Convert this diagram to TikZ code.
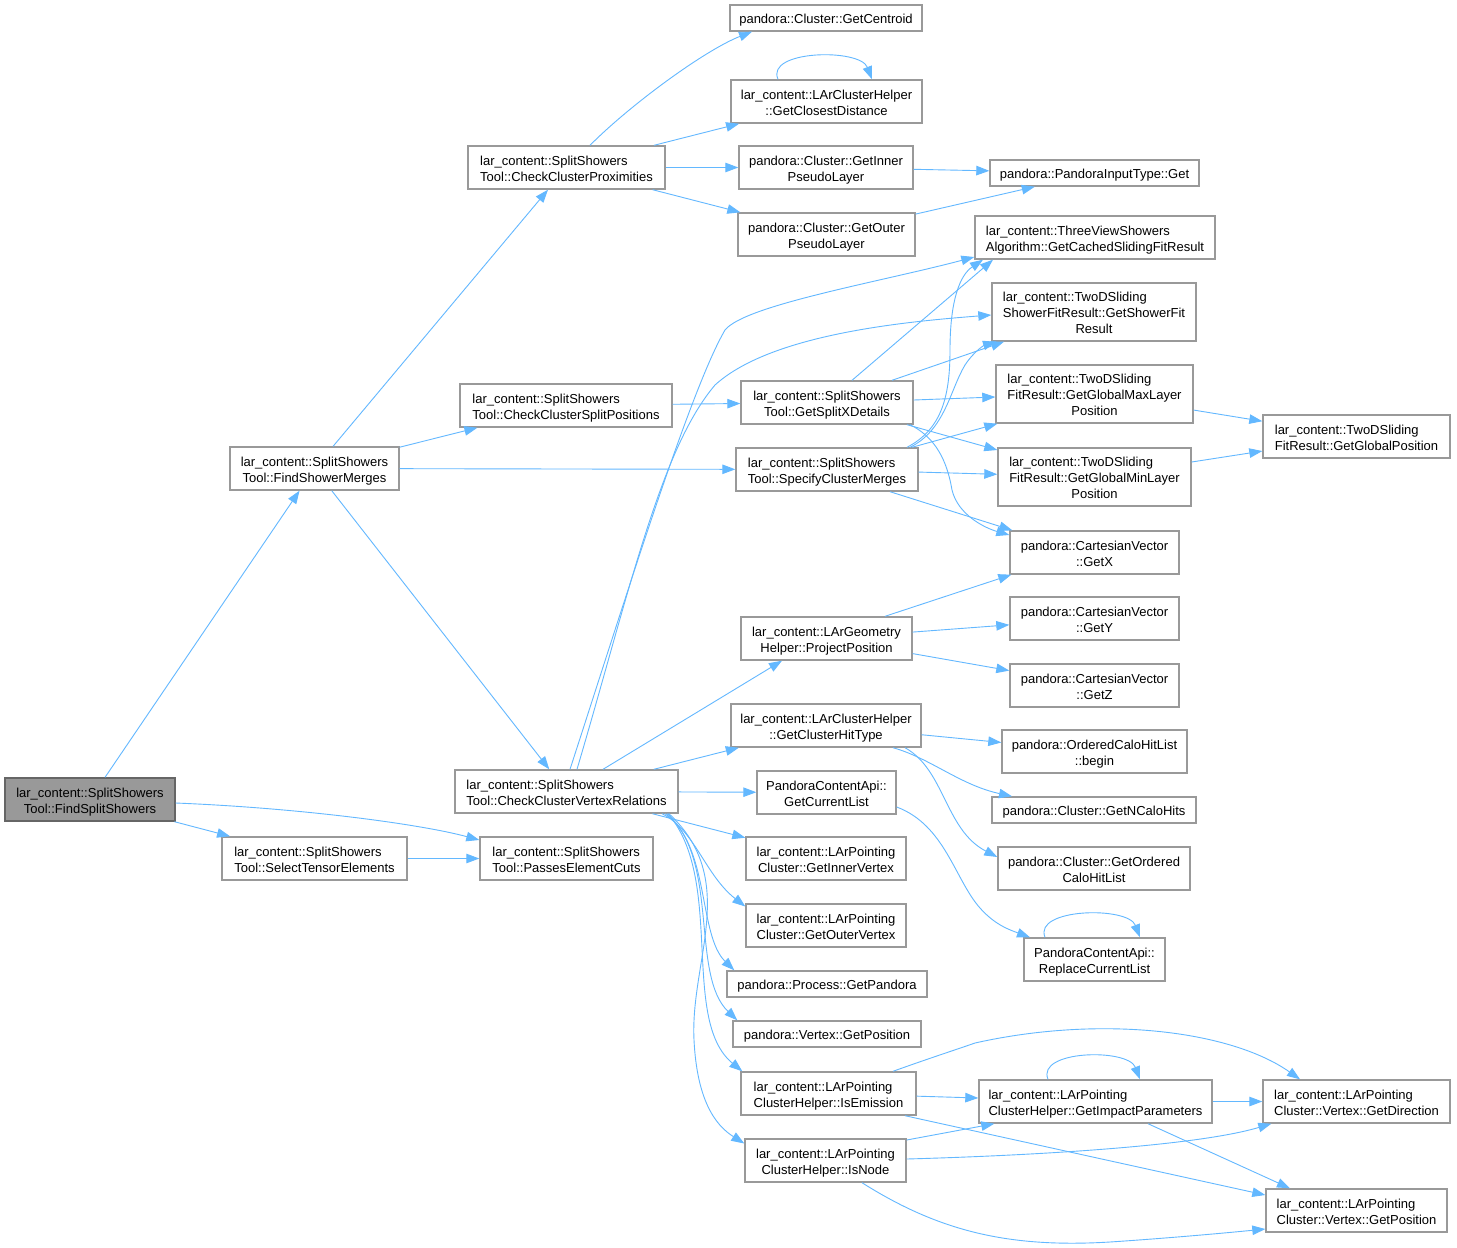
\documentclass[tikz,border=0pt]{standalone}
\usepackage{fontspec}
\setmainfont{Liberation Sans}
\usetikzlibrary{arrows.meta}
\definecolor{edgec}{HTML}{63B8FF}
\definecolor{bordc}{HTML}{999999}
\definecolor{mainb}{HTML}{666666}
\definecolor{mainf}{HTML}{999999}
\newcommand\dxup{\rule{0pt}{16.6pt}}
\newcommand\dxtwo[2]{\begin{tabular}{@{}l@{}}\dxup#1\\\multicolumn{1}{@{}c@{}}{#2}\end{tabular}}
\newcommand\dxthree[3]{\begin{tabular}{@{}l@{}}\dxup#1\\#2\\\multicolumn{1}{@{}c@{}}{#3}\end{tabular}}
\begin{document}
\begin{tikzpicture}[x=1pt,y=-1pt,
  box/.style={draw=bordc,fill=white,line width=1.4pt,inner sep=0pt,text=black,font=\fontsize{13}{16}\selectfont},
  hone/.style={minimum height=26pt,text height=13.6pt,text depth=2.8pt},
  htwo/.style={minimum height=43pt},
  hthree/.style={minimum height=58pt},
  e/.style={draw=edgec,line width=0.9pt,-{Triangle[length=13pt,width=9.5pt]}}]
\fill[white] (0,0) rectangle (1457,1248);
\useasboundingbox (0,0) rectangle (1457,1248);
% nodes
\node[box,htwo,minimum width=170pt,fill=mainf,draw=mainb] (fss) at (90,799.5) {\dxtwo{lar\_content::SplitShowers}{Tool::FindSplitShowers}};
\node[box,htwo,minimum width=169pt] (fsm) at (314.5,468.5) {\dxtwo{lar\_content::SplitShowers}{Tool::FindShowerMerges}};
\node[box,htwo,minimum width=185pt] (ste) at (314.5,858.5) {\dxtwo{lar\_content::SplitShowers}{Tool::SelectTensorElements}};
\node[box,htwo,minimum width=173pt] (pec) at (566.5,858.5) {\dxtwo{lar\_content::SplitShowers}{Tool::PassesElementCuts}};
\node[box,htwo,minimum width=197pt] (ccp) at (566.5,167.5) {\dxtwo{lar\_content::SplitShowers}{Tool::CheckClusterProximities}};
\node[box,htwo,minimum width=212pt] (ccsp) at (566,405.5) {\dxtwo{lar\_content::SplitShowers}{Tool::CheckClusterSplitPositions}};
\node[box,htwo,minimum width=223pt] (ccvr) at (566.5,791.5) {\dxtwo{lar\_content::SplitShowers}{Tool::CheckClusterVertexRelations}};
\node[box,hone,minimum width=192pt] (cen) at (826,18) {pandora::Cluster::GetCentroid};
\node[box,htwo,minimum width=191pt] (gcd) at (826.5,101.5) {\dxtwo{lar\_content::LArClusterHelper}{::GetClosestDistance}};
\node[box,htwo,minimum width=174pt] (gipl) at (826,167.5) {\dxtwo{pandora::Cluster::GetInner}{PseudoLayer}};
\node[box,htwo,minimum width=177pt] (gopl) at (826.5,234.5) {\dxtwo{pandora::Cluster::GetOuter}{PseudoLayer}};
\node[box,hone,minimum width=209pt] (pit) at (1094.5,173) {pandora::PandoraInputType::Get};
\node[box,htwo,minimum width=240pt] (gcsf) at (1095,237.5) {\dxtwo{lar\_content::ThreeViewShowers}{Algorithm::GetCachedSlidingFitResult}};
\node[box,hthree,minimum width=204pt] (gsfr) at (1094,312) {\dxthree{lar\_content::TwoDSliding}{ShowerFitResult::GetShowerFit}{Result}};
\node[box,hthree,minimum width=197pt] (gmax) at (1094.5,394) {\dxthree{lar\_content::TwoDSliding}{FitResult::GetGlobalMaxLayer}{Position}};
\node[box,hthree,minimum width=193pt] (gmin) at (1094.5,477) {\dxthree{lar\_content::TwoDSliding}{FitResult::GetGlobalMinLayer}{Position}};
\node[box,htwo,minimum width=187pt] (gpos) at (1356.5,436.5) {\dxtwo{lar\_content::TwoDSliding}{FitResult::GetGlobalPosition}};
\node[box,htwo,minimum width=169pt] (gx) at (1094.5,552.5) {\dxtwo{pandora::CartesianVector}{::GetX}};
\node[box,htwo,minimum width=169pt] (gy) at (1094.5,618.5) {\dxtwo{pandora::CartesianVector}{::GetY}};
\node[box,htwo,minimum width=169pt] (gz) at (1094.5,685.5) {\dxtwo{pandora::CartesianVector}{::GetZ}};
\node[box,htwo,minimum width=172pt] (gsxd) at (827,402.5) {\dxtwo{lar\_content::SplitShowers}{Tool::GetSplitXDetails}};
\node[box,htwo,minimum width=182pt] (scm) at (827,469.5) {\dxtwo{lar\_content::SplitShowers}{Tool::SpecifyClusterMerges}};
\node[box,htwo,minimum width=171pt] (pp) at (826.5,638.5) {\dxtwo{lar\_content::LArGeometry}{Helper::ProjectPosition}};
\node[box,htwo,minimum width=190pt] (gcht) at (826,725.5) {\dxtwo{lar\_content::LArClusterHelper}{::GetClusterHitType}};
\node[box,htwo,minimum width=139pt] (gcl) at (826.5,792.5) {\dxtwo{PandoraContentApi::}{GetCurrentList}};
\node[box,htwo,minimum width=160pt] (giv) at (826,858.5) {\dxtwo{lar\_content::LArPointing}{Cluster::GetInnerVertex}};
\node[box,htwo,minimum width=160pt] (gov) at (826,925.5) {\dxtwo{lar\_content::LArPointing}{Cluster::GetOuterVertex}};
\node[box,hone,minimum width=200pt] (gp) at (827,984) {pandora::Process::GetPandora};
\node[box,hone,minimum width=188pt] (vgp) at (827,1034) {pandora::Vertex::GetPosition};
\node[box,htwo,minimum width=175pt] (ie) at (828.5,1093.5) {\dxtwo{lar\_content::LArPointing}{ClusterHelper::IsEmission}};
\node[box,htwo,minimum width=161pt] (in) at (825.5,1160.5) {\dxtwo{lar\_content::LArPointing}{ClusterHelper::IsNode}};
\node[box,htwo,minimum width=185pt] (och) at (1094.5,751.5) {\dxtwo{pandora::OrderedCaloHitList}{::begin}};
\node[box,hone,minimum width=204pt] (gnch) at (1094,810) {pandora::Cluster::GetNCaloHits};
\node[box,htwo,minimum width=192pt] (goch) at (1094,868.5) {\dxtwo{pandora::Cluster::GetOrdered}{CaloHitList}};
\node[box,htwo,minimum width=141pt] (rcl) at (1094.5,959.5) {\dxtwo{PandoraContentApi::}{ReplaceCurrentList}};
\node[box,htwo,minimum width=233pt] (gip) at (1095.5,1101.5) {\dxtwo{lar\_content::LArPointing}{ClusterHelper::GetImpactParameters}};
\node[box,htwo,minimum width=187pt] (gdir) at (1356.5,1101.5) {\dxtwo{lar\_content::LArPointing}{Cluster::Vertex::GetDirection}};
\node[box,htwo,minimum width=181pt] (cvgp) at (1356.5,1210.5) {\dxtwo{lar\_content::LArPointing}{Cluster::Vertex::GetPosition}};
% edges
\draw[e] (fss) -- (fsm);
\draw[e] ([yshift=-3.5pt]fss.east) .. controls (300,808) and (420,824) .. ([yshift=18.5pt]pec.west);
\draw[e] (fss) -- (ste);
\draw[e] (ste) -- (pec);
\draw[e] (fsm) -- (ccp);
\draw[e] (fsm) -- (ccsp);
\draw[e] (fsm) -- (scm);
\draw[e] (fsm) -- (ccvr);
\draw[e] ([xshift=23.5pt]ccp.north) .. controls (630,105) and (705,50) .. ([xshift=-74pt]cen.south);
\draw[e] (ccp) -- (gcd);
\draw[e] (ccp) -- (gipl);
\draw[e] (ccp) -- (gopl);
\draw[e] (gipl) -- (pit);
\draw[e] (gopl) -- (pit);
\draw[e] ([xshift=-48.5pt]gcd.north) .. controls (765,50) and (860,48) .. ([xshift=45.5pt]gcd.north);
\draw[e] (ccsp) -- (gsxd);
\draw[e] ([xshift=25pt]gsxd.north) -- ([xshift=-102pt]gcsf.south);
\draw[e] ([xshift=65pt]gsxd.north) -- ([xshift=-90pt]gsfr.south);
\draw[e] ([yshift=2.5pt]gsxd.east) -- ([yshift=-3pt]gmax.west);
\draw[e] ([xshift=80pt]gsxd.south) -- ([yshift=27pt]gmin.west);
\draw[e] ([xshift=83pt]gsxd.south) .. controls (935,437) and (947,460) .. (952,490) .. controls (958,515) and (985,528) .. ([yshift=17.5pt]gx.west);
\draw[e] ([xshift=80pt]scm.north) .. controls (940,430) and (950,400) .. (950,350) .. controls (950,300) and (960,275) .. ([xshift=-112pt]gcsf.south);
\draw[e] ([xshift=83pt]scm.north) .. controls (945,430) and (950,390) .. (965,365) .. controls (975,350) and (985,345) .. ([xshift=-98pt]gsfr.south);
\draw[e] ([xshift=85pt]scm.north) -- ([xshift=2pt]gmax.south west);
\draw[e] (scm) -- (gmin);
\draw[e] ([xshift=63pt]scm.south) -- ([xshift=3pt]gx.north west);
\draw[e] (gmax) -- (gpos);
\draw[e] (gmin) -- (gpos);
\draw[e] ([xshift=3.5pt]ccvr.north) .. controls (625,600) and (690,390) .. (725,330) .. controls (745,305) and (880,282) .. ([yshift=-19.5pt]gcsf.west);
\draw[e] ([xshift=10.5pt]ccvr.north) .. controls (630,590) and (660,450) .. (715,385) .. controls (770,335) and (900,322) .. ([yshift=-3pt]gsfr.west);
\draw[e] ([xshift=36.5pt]ccvr.north) -- ([xshift=-44.5pt]pp.south);
\draw[e] (ccvr) -- (gcht);
\draw[e] (ccvr) -- (gcl);
\draw[e] (ccvr) -- (giv);
\draw[e] ([xshift=95.5pt]ccvr.south) .. controls (695,830) and (705,875) .. ([yshift=19pt]gov.west);
\draw[e] ([xshift=98.5pt]ccvr.south) .. controls (710,845) and (698,935) .. ([xshift=8pt]gp.north west);
\draw[e] ([xshift=100.5pt]ccvr.south) .. controls (720,860) and (690,975) .. ([xshift=5pt]vgp.north west);
\draw[e] ([xshift=101.5pt]ccvr.south) .. controls (725,880) and (680,1020) .. ([xshift=2pt]ie.north west);
\draw[e] ([xshift=102.5pt]ccvr.south) .. controls (740,880) and (690,960) .. (694,1040) .. controls (697,1100) and (715,1125) .. ([yshift=17pt]in.west);
\draw[e] ([xshift=58.5pt]pp.north) -- ([xshift=2pt]gx.south west);
\draw[e] (pp) -- (gy);
\draw[e] (pp) -- (gz);
\draw[e] (gcht) -- (och);
\draw[e] ([xshift=67pt]gcht.south) .. controls (930,758) and (960,785) .. ([xshift=-82pt]gnch.north);
\draw[e] ([xshift=79pt]gcht.south) .. controls (945,770) and (945,830) .. ([yshift=11.5pt]goch.west);
\draw[e] ([yshift=-14.5pt]gcl.east) .. controls (945,825) and (955,880) .. (980,908) .. controls (995,925) and (1010,930) .. ([xshift=-64.5pt]rcl.north);
\draw[e] ([xshift=-49.5pt]rcl.north) .. controls (1033,908) and (1128,906) .. ([xshift=45.5pt]rcl.north);
\draw[e] ([xshift=64.5pt]ie.north) .. controls (930,1058) and (955,1050) .. (975,1043) .. controls (1100,1015) and (1230,1030) .. ([xshift=-56.5pt]gdir.north);
\draw[e] (ie) -- (gip);
\draw[e] ([xshift=76.5pt]ie.south) -- ([yshift=15.5pt]cvgp.west);
\draw[e] ([yshift=20.5pt]in.east) -- ([xshift=16pt]gip.south west);
\draw[e] ([yshift=1.5pt]in.east) .. controls (1050,1155) and (1200,1145) .. ([xshift=9pt]gdir.south west);
\draw[e] ([xshift=36.5pt]in.south) .. controls (940,1232) and (1010,1248) .. (1110,1242) .. controls (1170,1238) and (1225,1233) .. ([yshift=-18.5pt]cvgp.west);
\draw[e] (gip) -- (gdir);
\draw[e] ([xshift=52.5pt]gip.south) -- ([xshift=-66.5pt]cvgp.north);
\draw[e] ([xshift=-47.5pt]gip.north) .. controls (1036,1050) and (1128,1048) .. ([xshift=44.5pt]gip.north);
\end{tikzpicture}
\end{document}
